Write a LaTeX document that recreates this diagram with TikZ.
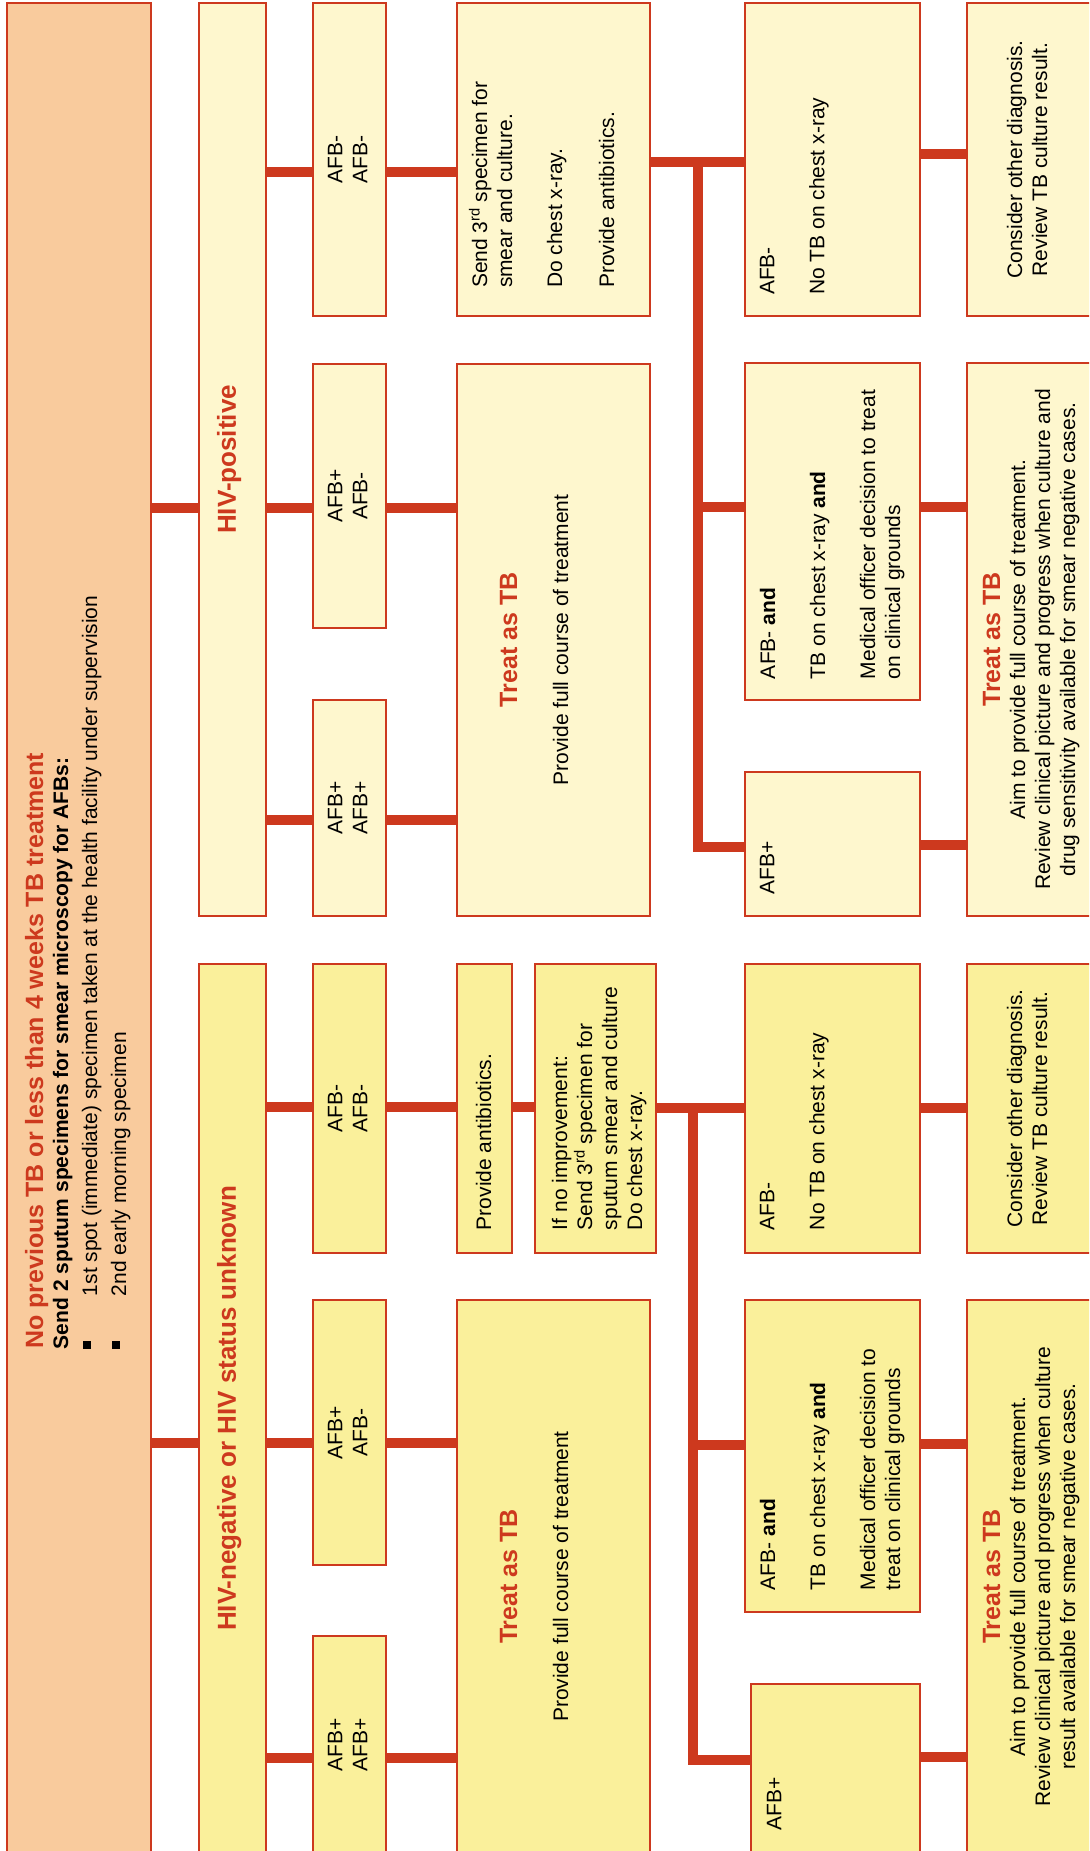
\documentclass[tikz,border=0pt]{standalone}
\usepackage{fontspec}
\setmainfont{Liberation Sans}
\usetikzlibrary{fit}
\definecolor{tbred}{RGB}{205,57,30}
\definecolor{orangefill}{RGB}{249,203,157}
\definecolor{posfill}{RGB}{254,247,206}
\definecolor{negfill}{RGB}{250,240,155}
\newcommand{\tbsq}{\rule[6pt]{8pt}{8pt}}
\newcommand{\rdsup}{\smash{\textsuperscript{rd}}}
\begin{document}
\begin{tikzpicture}[x=1pt,y=-1pt,
  box/.style={draw=tbred, line width=1.8pt, inner sep=0pt, outer sep=0pt},
  orbox/.style={box, fill=orangefill},
  posbox/.style={box, fill=posfill},
  negbox/.style={box, fill=negfill},
  conn/.style={draw=tbred, line width=9.5pt},
  txt/.style={rotate=90, inner sep=0pt, outer sep=0pt, font=\fontsize{21}{25}\selectfont},
  lft/.style={txt, align=left, anchor=north west},
  ctr/.style={txt, align=center, anchor=north},
  hdr/.style={rotate=90, inner sep=0pt, outer sep=0pt, anchor=north, text=tbred,
              font=\fontsize{25}{30}\selectfont\bfseries},
]
\useasboundingbox (0,0) rectangle (1089,1851);
\clip (0,0) rectangle (1089,1851);

% ---------- boxes ----------
\node[orbox,  fit={(7,3)(151,1853)}] (start) {};
\node[posbox, fit={(199,3)(266,916)}] (hivpos) {};
\node[negbox, fit={(199,964)(266,1853)}] (hivneg) {};

\node[posbox, fit={(313,3)(386,316)}] (pA1) {};
\node[posbox, fit={(313,364)(386,628)}] (pA2) {};
\node[posbox, fit={(313,700)(386,916)}] (pA3) {};
\node[negbox, fit={(313,964)(386,1253)}] (nA1) {};
\node[negbox, fit={(313,1300)(386,1565)}] (nA2) {};
\node[negbox, fit={(313,1636)(386,1853)}] (nA3) {};

\node[posbox, fit={(457,3)(650,316)}] (send3) {};
\node[posbox, fit={(457,364)(650,916)}] (ptreat) {};
\node[negbox, fit={(457,964)(512,1253)}] (nabx) {};
\node[negbox, fit={(535,964)(656,1253)}] (nifno) {};
\node[negbox, fit={(457,1300)(650,1853)}] (ntreat) {};

\node[posbox, fit={(745,3)(920,316)}] (pNo) {};
\node[posbox, fit={(745,363)(920,700)}] (pAnd) {};
\node[posbox, fit={(745,772)(920,916)}] (pAp) {};
\node[negbox, fit={(745,964)(920,1253)}] (nNo) {};
\node[negbox, fit={(745,1300)(920,1612)}] (nAnd) {};
\node[negbox, fit={(751,1684)(920,1853)}] (nAp) {};

\node[posbox, fit={(967,3)(1095,316)}] (pCons) {};
\node[posbox, fit={(967,363)(1095,916)}] (pT5) {};
\node[negbox, fit={(967,964)(1095,1253)}] (nCons) {};
\node[negbox, fit={(967,1300)(1095,1853)}] (nT5) {};

% ---------- connectors ----------
\draw[conn] (start.east |- 0,508) -- (hivpos.west |- 0,508);
\draw[conn] (start.east |- 0,1443) -- (hivneg.west |- 0,1443);

\draw[conn] (hivpos.east |- 0,172) -- (pA1.west |- 0,172);
\draw[conn] (hivpos.east |- 0,508) -- (pA2.west |- 0,508);
\draw[conn] (hivpos.east |- 0,820) -- (pA3.west |- 0,820);
\draw[conn] (hivneg.east |- 0,1107) -- (nA1.west |- 0,1107);
\draw[conn] (hivneg.east |- 0,1443) -- (nA2.west |- 0,1443);
\draw[conn] (hivneg.east |- 0,1758) -- (nA3.west |- 0,1758);

\draw[conn] (pA1.east |- 0,172) -- (send3.west |- 0,172);
\draw[conn] (pA2.east |- 0,508) -- (ptreat.west |- 0,508);
\draw[conn] (pA3.east |- 0,820) -- (ptreat.west |- 0,820);
\draw[conn] (nA1.east |- 0,1107) -- (nabx.west |- 0,1107);
\draw[conn] (nabx.east |- 0,1107) -- (nifno.west |- 0,1107);
\draw[conn] (nA2.east |- 0,1443) -- (ntreat.west |- 0,1443);
\draw[conn] (nA3.east |- 0,1758) -- (ntreat.west |- 0,1758);

% HIV-positive branch after the third specimen
\coordinate (pj) at (698,162);
\draw[conn] (send3.east |- pj) -- (pNo.west |- pj);
\draw[conn] (pj) |- (pAp.west |- 0,847);
\draw[conn] (pj |- 0,507) -- (pAnd.west |- 0,507);

% HIV-negative branch after the third specimen
\coordinate (nj) at (693,1108);
\draw[conn] (nifno.east |- nj) -- (nNo.west |- nj);
\draw[conn] (nj) |- (nAp.west |- 0,1760);
\draw[conn] (nj |- 0,1445) -- (nAnd.west |- 0,1445);

\draw[conn] (pNo.east |- 0,154) -- (pCons.west |- 0,154);
\draw[conn] (pAnd.east |- 0,507) -- (pT5.west |- 0,507);
\draw[conn] (pAp.east |- 0,845) -- (pT5.west |- 0,845);
\draw[conn] (nNo.east |- 0,1108) -- (nCons.west |- 0,1108);
\draw[conn] (nAnd.east |- 0,1444) -- (nT5.west |- 0,1444);
\draw[conn] (nAp.east |- 0,1757) -- (nT5.west |- 0,1757);

% ---------- texts ----------
\node[rotate=90, inner sep=0pt, anchor=base west, text=tbred,
      font=\fontsize{25}{30}\selectfont\bfseries] (ttl) at (43,1349)
  {No previous TB or less than 4 weeks TB treatment};
\node[lft, font=\fontsize{21}{29}\selectfont] (obody) at (53,1349)
  {\textbf{Send 2 sputum specimens for smear microscopy for AFBs:}\\
   \makebox[53pt][l]{\tbsq}1st spot (immediate) specimen taken at the health facility under supervision\\
   \makebox[53pt][l]{\tbsq}2nd early morning specimen};

\node[hdr, font=\fontsize{26}{30}\selectfont\bfseries] (hpt) at (hivpos.center -| 217,0) {HIV-positive};
\node[hdr, font=\fontsize{26}{30}\selectfont\bfseries] (hnt) at (hivneg.center -| 217,0) {HIV-negative or HIV status unknown};

\node[ctr] (pA1t) at (pA1.center -| 328,0) {AFB-\\AFB-};
\node[ctr] (pA2t) at (pA2.center -| 328,0) {AFB+\\AFB-};
\node[ctr] (pA3t) at (pA3.center -| 328,0) {AFB+\\AFB+};
\node[ctr] (nA1t) at (nA1.center -| 328,0) {AFB-\\AFB-};
\node[ctr] (nA2t) at (nA2.center -| 328,0) {AFB+\\AFB-};
\node[ctr] (nA3t) at (nA3.center -| 328,0) {AFB+\\AFB+};

\node[lft] (send3t) at (472,288)
  {Send 3\rdsup{} specimen for\\smear and culture.\\[25pt]Do chest x-ray.\\[27pt]Provide antibiotics.};
\node[hdr] (ptreath) at (ptreat.center -| 500,0) {Treat as TB};
\node[ctr] (ptreatt) at (ptreat.center -| 553,0) {Provide full course of treatment};
\node[lft] (nabxt) at (476,1230) {Provide antibiotics.};
\node[lft] (nifnot) at (552,1230)
  {If no improvement:\\Send 3\rdsup{} specimen for\\sputum smear and culture\\Do chest x-ray.};
\node[hdr] (ntreath) at (ntreat.center -| 500,0) {Treat as TB};
\node[ctr] (ntreatt) at (ntreat.center -| 553,0) {Provide full course of treatment};

\node[lft] (pNot) at (760,295) {AFB-\\[25pt]No TB on chest x-ray};
\node[lft] (pAndt) at (760,679)
  {AFB- \textbf{and}\\[25pt]TB on chest x-ray \textbf{and}\\[25pt]Medical officer decision to treat\\on clinical grounds};
\node[lft] (pApt) at (760,894) {AFB+};
\node[lft] (nNot) at (760,1230) {AFB-\\[25pt]No TB on chest x-ray};
\node[lft] (nAndt) at (760,1590)
  {AFB- \textbf{and}\\[25pt]TB on chest x-ray \textbf{and}\\[25pt]Medical officer decision to\\treat on clinical grounds};
\node[lft] (nApt) at (767,1830) {AFB+};

\node[ctr] (pConst) at (pCons.center -| 1007,0) {Consider other diagnosis.\\Review TB culture result.};
\node[hdr] (pT5h) at (pT5.center -| 983,0) {Treat as TB};
\node[ctr] (pT5t) at (pT5.center -| 1010,0)
  {Aim to provide full course of treatment.\\Review clinical picture and progress when culture and\\drug sensitivity available for smear negative cases.};
\node[ctr] (nConst) at (nCons.center -| 1007,0) {Consider other diagnosis.\\Review TB culture result.};
\node[hdr] (nT5h) at (nT5.center -| 983,0) {Treat as TB};
\node[ctr] (nT5t) at (nT5.center -| 1010,0)
  {Aim to provide full course of treatment.\\Review clinical picture and progress when culture\\result available for smear negative cases.};
\end{tikzpicture}
\end{document}
